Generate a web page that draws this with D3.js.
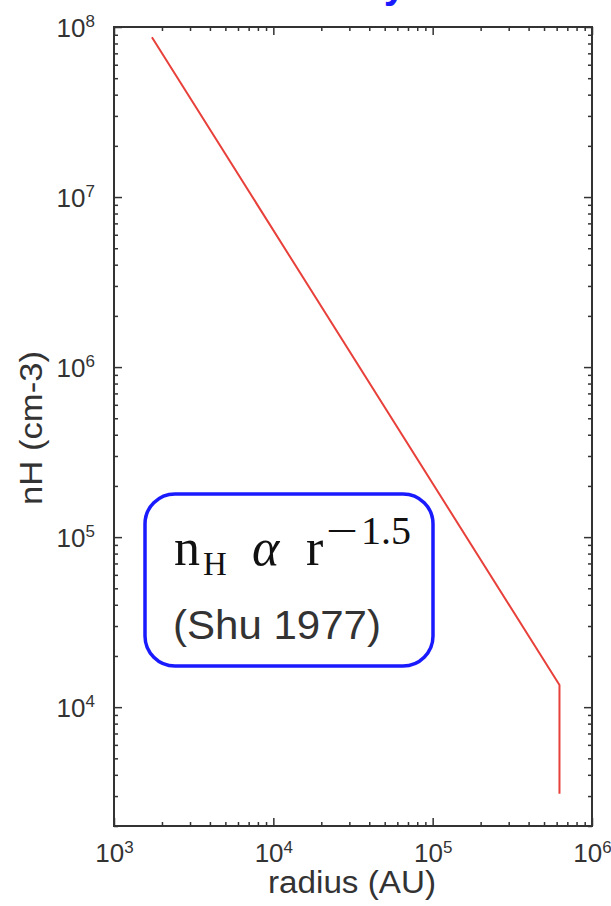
<!DOCTYPE html>
<html>
<head>
<meta charset="utf-8">
<script src="https://cdn.jsdelivr.net/npm/d3@7"></script>
<style>
  body { margin: 0; background: #fff; }
  svg { display: block; }
  text { font-family: "Liberation Sans", Arial, sans-serif; fill: #333; }
</style>
</head>
<body>
<div id="chart"></div>
<script>
// values
const radius = [1730, 6.25e5, 6.25e5];
const density = [8.7e7, 1.35e4, 3100];
const xTicks = [1e3, 1e4, 1e5, 1e6];
const yTicks = [1e4, 1e5, 1e6, 1e7, 1e8];
const xTickExp = ['3', '4', '5', '6'];
const yTickExp = ['4', '5', '6', '7', '8'];

const W = 611, H = 906;
const frame = {left: 114, top: 27, right: 592, bottom: 826};

const x = d3.scaleLog().domain([1e3, 1e6]).range([frame.left, frame.right]);
const y = d3.scaleLog().domain([2000, 1e8]).range([frame.bottom, frame.top]);

const svg = d3.select('#chart').append('svg')
  .attr('width', W)
  .attr('height', H);

// title, cut off by the top of the picture (as in the original)
svg.append('text')
  .attr('x', 406)
  .attr('y', -2)
  .attr('text-anchor', 'end')
  .style('font-size', '40px')
  .style('font-weight', 'bold')
  .style('fill', '#1a1aff')
  .text('Density');

const minorX = x.ticks().filter(d => !xTicks.includes(d));
const minorY = y.ticks().filter(d => !yTicks.includes(d) && d >= 2000);

function styleAxis(g) {
  g.select('.domain').remove();
  g.selectAll('line').attr('stroke', '#333').attr('stroke-width', 1.5);
}

// minor ticks on all four sides, pointing inwards
svg.append('g').attr('transform', `translate(0,${frame.bottom})`)
  .call(d3.axisBottom(x).tickValues(minorX).tickSize(-4).tickFormat(''))
  .call(styleAxis);
svg.append('g').attr('transform', `translate(0,${frame.top})`)
  .call(d3.axisTop(x).tickValues(minorX).tickSize(-4).tickFormat(''))
  .call(styleAxis);
svg.append('g').attr('transform', `translate(${frame.left},0)`)
  .call(d3.axisLeft(y).tickValues(minorY).tickSize(-4).tickFormat(''))
  .call(styleAxis);
svg.append('g').attr('transform', `translate(${frame.right},0)`)
  .call(d3.axisRight(y).tickValues(minorY).tickSize(-4).tickFormat(''))
  .call(styleAxis);

// major ticks
const xb = svg.append('g').attr('transform', `translate(0,${frame.bottom})`)
  .call(d3.axisBottom(x).tickValues(xTicks).tickSize(-8).tickPadding(13).tickFormat(''))
  .call(styleAxis);
svg.append('g').attr('transform', `translate(0,${frame.top})`)
  .call(d3.axisTop(x).tickValues(xTicks).tickSize(-8).tickFormat(''))
  .call(styleAxis);
const yl = svg.append('g').attr('transform', `translate(${frame.left},0)`)
  .call(d3.axisLeft(y).tickValues(yTicks).tickSize(-8).tickPadding(19).tickFormat(''))
  .call(styleAxis);
svg.append('g').attr('transform', `translate(${frame.right},0)`)
  .call(d3.axisRight(y).tickValues(yTicks).tickSize(-8).tickFormat(''))
  .call(styleAxis);

// power-of-ten labels
function powLabel(sel, exps) {
  sel.selectAll('.tick text').each(function (d, i) {
    const t = d3.select(this)
      .style('font-size', '26px')
      .attr('fill', null)
      .text('10');
    t.append('tspan')
      .attr('dy', '-0.55em')
      .style('font-size', '17px')
      .text(exps[i]);
  });
}
xb.selectAll('.tick text').attr('dy', '0.9em');
powLabel(xb, xTickExp);
yl.selectAll('.tick text').attr('dy', '0.35em');
powLabel(yl, yTickExp);

// frame
svg.append('rect')
  .attr('x', frame.left)
  .attr('y', frame.top)
  .attr('width', frame.right - frame.left)
  .attr('height', frame.bottom - frame.top)
  .attr('fill', 'none')
  .attr('stroke', '#333')
  .attr('stroke-width', 2);

// axis titles
svg.append('text')
  .attr('x', 352)
  .attr('y', 893)
  .attr('text-anchor', 'middle')
  .attr('textLength', 168)
  .attr('lengthAdjust', 'spacingAndGlyphs')
  .style('font-size', '31px')
  .text('radius (AU)');

svg.append('text')
  .attr('transform', 'translate(42,428) rotate(-90)')
  .attr('text-anchor', 'middle')
  .attr('textLength', 154)
  .attr('lengthAdjust', 'spacingAndGlyphs')
  .style('font-size', '31px')
  .text('nH (cm-3)');

// density profile
const line = d3.line()
  .x(d => x(d[0]))
  .y(d => y(d[1]));

svg.append('path')
  .datum(d3.zip(radius, density))
  .attr('fill', 'none')
  .attr('stroke', '#e8403a')
  .attr('stroke-width', 2)
  .attr('d', line);

// annotation box
const box = svg.append('g');
box.append('rect')
  .attr('x', 145)
  .attr('y', 494)
  .attr('width', 288)
  .attr('height', 172)
  .attr('rx', 30)
  .attr('fill', '#fff')
  .attr('stroke', '#1a1aff')
  .attr('stroke-width', 3.5);

const eq = box.append('text')
  .attr('y', 565)
  .style('font-family', '"Liberation Serif", "Times New Roman", serif')
  .style('font-size', '52px')
  .style('fill', '#111');
eq.append('tspan').attr('x', 174).text('n');
eq.append('tspan').attr('x', 203).attr('dy', 10).style('font-size', '33px').text('H');
eq.append('tspan').attr('x', 252).attr('dy', -10).style('font-style', 'italic').text('\u03b1');
eq.append('tspan').attr('x', 306).text('r');
eq.append('tspan').attr('x', 326).attr('dy', -21)
  .attr('textLength', 32)
  .attr('lengthAdjust', 'spacingAndGlyphs')
  .style('font-size', '40px')
  .text('\u2212');
eq.append('tspan').attr('x', 361)
  .style('font-size', '40px')
  .text('1.5');

box.append('text')
  .attr('x', 173)
  .attr('y', 639)
  .attr('textLength', 208)
  .attr('lengthAdjust', 'spacingAndGlyphs')
  .style('font-size', '40px')
  .text('(Shu 1977)');
</script>
</body>
</html>
